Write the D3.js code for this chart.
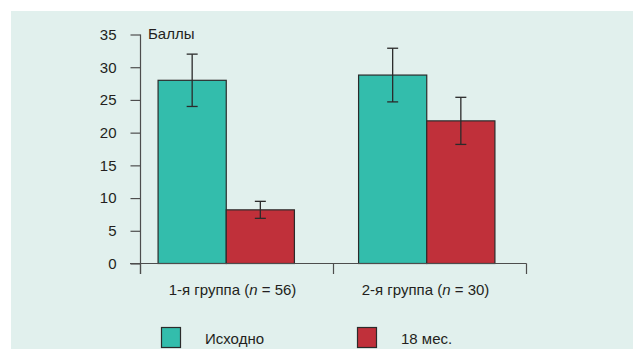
<!DOCTYPE html>
<html>
<head>
<meta charset="utf-8">
<script src="https://cdn.jsdelivr.net/npm/d3@7/dist/d3.min.js"></script>
<style>
  html, body { margin: 0; padding: 0; background: #ffffff; }
  svg { display: block; }
  text { font-family: "Liberation Sans", Arial, sans-serif; fill: #231f20; }
</style>
</head>
<body>
<svg id="chart" width="633" height="349"></svg>
<script>
// Groups, series and values (scores)
const groups = ["1-я группа", "2-я группа"];
const groupN = [56, 30];
const seriesNames = ["Исходно", "18 мес."];
const seriesColors = ["#33bdac", "#c0303a"];
const baseline = [28.0, 28.8];
const month18 = [8.2, 21.8];
const baselineErr = [4.0, 4.1];
const month18Err = [1.3, 3.6];
const yTicks = [0, 5, 10, 15, 20, 25, 30, 35];
const yLabel = "Баллы";

const values = [baseline, month18];
const errors = [baselineErr, month18Err];

const svg = d3.select("#chart");
const W = 633, H = 349;

// panel background
svg.append("rect")
  .attr("x", 11).attr("y", 11)
  .attr("width", W - 11).attr("height", H - 11)
  .attr("fill", "#e1f0ed");

const y = d3.scaleLinear().domain([0, 35]).range([263.5, 34.5]);

// axis bands (ticks between groups)
const xAxisScale = d3.scaleBand().domain(groups).range([140, 526]);
// bar positions inside the plot
const xBars = d3.scaleBand().domain(groups).range([126, 527])
  .paddingInner(0.32).paddingOuter(0.16);
const xSeries = d3.scaleBand().domain(seriesNames).range([0, xBars.bandwidth()]);

const axisColor = "#4d4d4d";

// bars
const barData = [];
groups.forEach((g, gi) => {
  seriesNames.forEach((s, si) => {
    barData.push({ g, s, v: values[si][gi], e: errors[si][gi], c: seriesColors[si] });
  });
});

const barG = svg.append("g");
barG.selectAll("rect.bar").data(barData).join("rect")
  .attr("class", "bar")
  .attr("x", d => xBars(d.g) + xSeries(d.s))
  .attr("y", d => y(d.v))
  .attr("width", xSeries.bandwidth())
  .attr("height", d => y(0) - y(d.v))
  .attr("fill", d => d.c)
  .attr("stroke", "#2b2b2b")
  .attr("stroke-width", 1.2);

// error bars
const errG = svg.append("g").attr("stroke", "#2b2b2b").attr("stroke-width", 1.3);
const cx = d => xBars(d.g) + xSeries(d.s) + xSeries.bandwidth() / 2;
const capW = 11;
errG.selectAll("line.stem").data(barData).join("line")
  .attr("x1", cx).attr("x2", cx)
  .attr("y1", d => y(d.v + d.e)).attr("y2", d => y(d.v - d.e));
errG.selectAll("line.capTop").data(barData).join("line")
  .attr("x1", d => cx(d) - capW / 2).attr("x2", d => cx(d) + capW / 2)
  .attr("y1", d => y(d.v + d.e)).attr("y2", d => y(d.v + d.e));
errG.selectAll("line.capBot").data(barData).join("line")
  .attr("x1", d => cx(d) - capW / 2).attr("x2", d => cx(d) + capW / 2)
  .attr("y1", d => y(d.v - d.e)).attr("y2", d => y(d.v - d.e));

// y axis
const yAxis = d3.axisLeft(y).tickValues(yTicks).tickSize(10).tickPadding(14);
const yg = svg.append("g").attr("transform", "translate(140.5,0)").call(yAxis);
yg.select(".domain").remove();
yg.selectAll(".tick line").attr("stroke", axisColor).attr("stroke-width", 1.2);
yg.selectAll(".tick text").attr("font-size", 15).attr("fill", "#231f20")
  .attr("font-family", "'Liberation Sans', Arial, sans-serif");
svg.append("line")
  .attr("x1", 140.5).attr("x2", 140.5)
  .attr("y1", y(35)).attr("y2", 274)
  .attr("stroke", axisColor).attr("stroke-width", 1.2);

// x axis: baseline with ticks at band boundaries
svg.append("line")
  .attr("x1", 130).attr("x2", 526.5)
  .attr("y1", y(0)).attr("y2", y(0))
  .attr("stroke", axisColor).attr("stroke-width", 1.2);
const boundaries = groups.map(g => xAxisScale(g)).concat([xAxisScale.range()[1]]);
svg.selectAll("line.xtick").data(boundaries).join("line")
  .attr("class", "xtick")
  .attr("x1", d => Math.round(d) + 0.5).attr("x2", d => Math.round(d) + 0.5)
  .attr("y1", y(0)).attr("y2", 274)
  .attr("stroke", axisColor).attr("stroke-width", 1.2);

// category labels with italic n
const catG = svg.append("g");
groups.forEach((g, i) => {
  const t = catG.append("text")
    .attr("x", xAxisScale(g) + xAxisScale.bandwidth() / 2 - 4)
    .attr("y", 295)
    .attr("text-anchor", "middle")
    .attr("font-size", 15);
  t.append("tspan").text(g + " (");
  t.append("tspan").attr("font-style", "italic").text("n");
  t.append("tspan").text(" = " + groupN[i] + ")");
});

// y label
svg.append("text")
  .attr("x", 148).attr("y", 39)
  .attr("font-size", 15)
  .text(yLabel);

// legend
const legendX = [161, 357];
seriesNames.forEach((s, i) => {
  svg.append("rect")
    .attr("x", legendX[i] + 0.5).attr("y", 327.5)
    .attr("width", 19).attr("height", 20)
    .attr("fill", seriesColors[i])
    .attr("stroke", "#2b2b2b").attr("stroke-width", 1.2);
  svg.append("text")
    .attr("x", legendX[i] + 44).attr("y", 344)
    .attr("font-size", 15)
    .text(s);
});
</script>
</body>
</html>
